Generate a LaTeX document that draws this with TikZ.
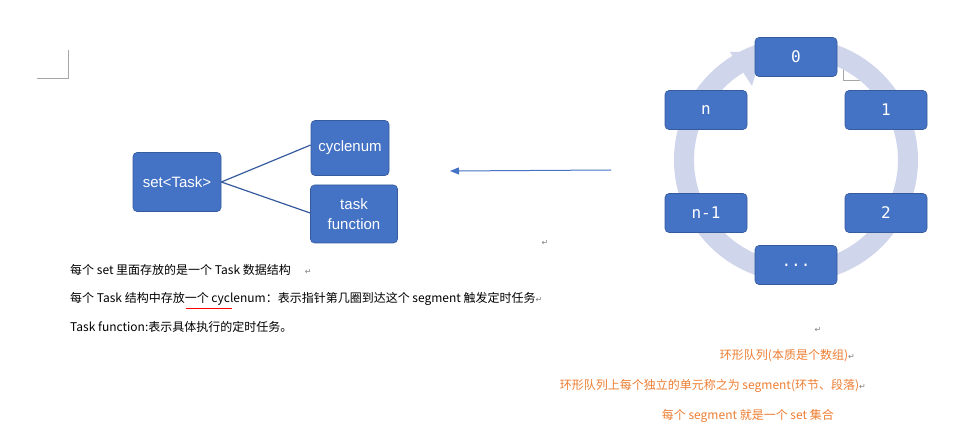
\documentclass[tikz,border=0pt]{standalone}
\usepackage{fontspec}
\setmainfont{Liberation Sans}
\newfontfamily\cjk{Noto Sans CJK SC}
\newfontfamily\djv{DejaVu Sans}
\newfontfamily\mono{DejaVu Sans Mono}
\usetikzlibrary{arrows.meta}
\definecolor{boxblue}{HTML}{4472C4}
\definecolor{ringc}{HTML}{CFD5EA}
\definecolor{orng}{HTML}{ED7D31}
\tikzset{
 bbox/.style={fill=boxblue,draw=boxblue!80!black,line width=0.6pt,rounded corners=4pt,text=white,align=center,font=\fontsize{15}{18}\selectfont,inner sep=0pt},
 rbox/.style={bbox,minimum width=82pt,minimum height=39pt,font=\mono\fontsize{16}{18}\selectfont},
 note/.style={font=\cjk\fontsize{12}{14}\selectfont,anchor=west,inner sep=0pt},
 onote/.style={note,text=orng,anchor=east},
 ret/.style={font=\djv\fontsize{8}{8}\selectfont,text=gray,inner sep=0pt},
 cornermark/.style={draw=gray!70,line width=0.6pt}
}
\begin{document}
\begin{tikzpicture}[x=1pt,y=-1pt]
\useasboundingbox (0,0) rectangle (958,443);
\draw[cornermark] (37,78) -- (68,78) -- (68,50);
\draw[cornermark] (843,48) -- (843,80) -- (862,80);
% ring
\draw[ringc,line width=20pt] (796,160) circle (112);
\fill[ringc] (762,52) -- (730,52) -- (752,86) -- cycle;
% ring boxes
\node[rbox] (b0) at (796,57) {0};
\node[rbox] (b1) at (886,110) {1};
\node[rbox] (bn) at (706,110) {n};
\node[rbox] (bn1) at (706,213) {n-1};
\node[rbox] (b2) at (886,213) {2};
\node[rbox] (bd) at (796,265) {...};
% arrow
\coordinate (as) at (611,170);
\coordinate (ae) at (450,171);
\draw[boxblue,line width=1pt,-{Triangle[length=9pt,width=7pt]}] (as) -- (ae);
% left
\node[bbox,minimum width=88pt,minimum height=59pt] (set) at (177,182) {set<Task>};
\node[bbox,minimum width=78pt,minimum height=55pt] (cyc) at (350,148) {cyclenum};
\node[bbox,minimum width=87pt,minimum height=58pt,font=\fontsize{15}{20}\selectfont] (tf) at (354,214) {task\\function};
\draw[boxblue!80!black,line width=1.2pt] (set.east) -- (cyc.west |- 0,145);
\draw[boxblue!80!black,line width=1.2pt] (set.east) -- (tf.west |- 0,213);
\node[ret] (r0) at (545,243) {↵};
% notes
\node[note] (t1) at (70,270) {每个 set 里面存放的是一个 Task 数据结构\hspace{14pt}{\djv\fontsize{8}{8}\selectfont\color{gray}↵}};
\node[note] (t2) at (70,299) {每个 Task 结构中存放一个 cyclenum：表示指针第几圈到达这个 segment 触发定时任务{\djv\fontsize{8}{8}\selectfont\color{gray}↵}};
\draw[red,line width=0.5pt] (186,308) -- (232,308);
\node[note] (t3) at (70,327) {Task function:表示具体执行的定时任务。};
\node[ret] (r1) at (818,330) {↵};
\node[onote] (o1) at (855,356) {环形队列(本质是个数组){\djv\fontsize{8}{8}\selectfont\color{gray}↵}};
\node[onote] (o2) at (866,386) {环形队列上每个独立的单元称之为 segment(环节、段落){\djv\fontsize{8}{8}\selectfont\color{gray}↵}};
\node[onote] (o3) at (834,416) {每个 segment 就是一个 set 集合};
\end{tikzpicture}
\end{document}
